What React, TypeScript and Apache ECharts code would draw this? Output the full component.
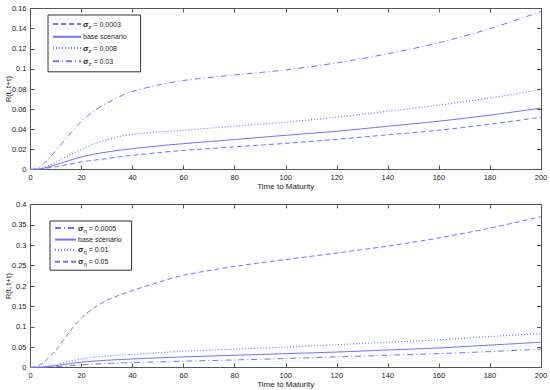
import React, { useEffect, useRef } from "react";
import * as echarts from "echarts";

const tenors = [0, 3, 5, 10, 15, 20, 25, 30, 35, 40, 50, 60, 80, 100, 120, 140, 160, 180, 200];

// Top panel (sigma_z)
const topLow = [0, 0.0003, 0.0008, 0.0028, 0.0052, 0.0075, 0.0093, 0.0109, 0.0126, 0.0141, 0.0167, 0.019, 0.0225, 0.026, 0.030, 0.0345, 0.039, 0.045, 0.052];
const topBase = [0, 0.0004, 0.0012, 0.0048, 0.0088, 0.0125, 0.0153, 0.0174, 0.0192, 0.0207, 0.0234, 0.0257, 0.0298, 0.034, 0.038, 0.043, 0.048, 0.054, 0.061];
const topMid = [0, 0.0005, 0.0016, 0.0075, 0.014, 0.020, 0.0255, 0.0296, 0.0328, 0.035, 0.0372, 0.039, 0.043, 0.047, 0.052, 0.058, 0.064, 0.071, 0.0795];
const topHigh = [0, 0.0012, 0.005, 0.019, 0.034, 0.048, 0.0585, 0.066, 0.0725, 0.0775, 0.084, 0.0885, 0.094, 0.099, 0.106, 0.115, 0.126, 0.140, 0.157];

// Bottom panel (sigma_eta)
const botLow = [0, 0.0002, 0.0006, 0.0022, 0.0042, 0.0065, 0.0085, 0.0098, 0.011, 0.012, 0.0138, 0.0155, 0.0185, 0.022, 0.026, 0.030, 0.034, 0.039, 0.045];
const botBase = [0, 0.0004, 0.0012, 0.0045, 0.0092, 0.013, 0.0158, 0.0178, 0.0195, 0.021, 0.0236, 0.026, 0.030, 0.034, 0.038, 0.043, 0.048, 0.055, 0.062];
const botMid = [0, 0.0005, 0.0016, 0.0075, 0.0145, 0.021, 0.0253, 0.0283, 0.0305, 0.032, 0.0362, 0.040, 0.045, 0.050, 0.056, 0.062, 0.068, 0.076, 0.083];
const botHigh = [0, 0.004, 0.012, 0.043, 0.085, 0.122, 0.147, 0.165, 0.178, 0.189, 0.209, 0.2265, 0.248, 0.265, 0.281, 0.298, 0.318, 0.342, 0.370];

const topNames = ["σz = 0.0003", "base scenario", "σz = 0.008", "σz = 0.03"];
const botNames = ["ση = 0.0005", "base scenario ", "ση = 0.01", "ση = 0.05"];
const legendLabels: Record<string, string> = {
  "σz = 0.0003": "{s|σ}{sub|z}{t| = 0.0003}",
  "base scenario": "{t|base scenario}",
  "σz = 0.008": "{s|σ}{sub|z}{t| = 0.008}",
  "σz = 0.03": "{s|σ}{sub|z}{t| = 0.03}",
  "ση = 0.0005": "{s|σ}{sub|η}{t| = 0.0005}",
  "base scenario ": "{t|base scenario}",
  "ση = 0.01": "{s|σ}{sub|η}{t| = 0.01}",
  "ση = 0.05": "{s|σ}{sub|η}{t| = 0.05}",
};

const COLOR = "#7373f0";
const AXIS = "#555";
const FONT = "Liberation Sans, Arial, sans-serif";

const pairs = (ys: number[]) => tenors.map((x, i) => [x, ys[i]]);

export default function App() {
  const ref = useRef<HTMLDivElement>(null);
  useEffect(() => {
    if (!ref.current) return;
    const chart = echarts.init(ref.current, undefined, { renderer: "svg" });

    const dashed = [5, 3];
    const dotted = [1, 2];
    const dashdot = [6, 3, 1, 3];

    const mkSeries = (name: string, ys: number[], type: any, idx: number, width = 1) => ({
      name,
      type: "line",
      xAxisIndex: idx,
      yAxisIndex: idx,
      data: pairs(ys),
      showSymbol: false,
      symbol: "none",
      smooth: 0.3,
      lineStyle: { color: COLOR, width, type },
      itemStyle: { color: COLOR },
    });

    const tickStyle = { show: true, inside: true, length: 4, lineStyle: { color: AXIS } };
    const lineStyleAx = { show: true, onZero: false, lineStyle: { color: AXIS, width: 1 } };

    const mainX = (gridIndex: number) => ({
      type: "value",
      gridIndex,
      min: 0,
      max: 200,
      interval: 20,
      name: "Time to Maturity",
      nameLocation: "middle",
      nameGap: 13,
      nameMoveOverlap: false,
      nameTextStyle: { fontSize: 8, color: "#222", fontFamily: FONT },
      axisLine: lineStyleAx,
      axisTick: tickStyle,
      axisLabel: { fontSize: 7.5, color: "#222", margin: 4, fontFamily: FONT },
      splitLine: { show: false },
    });
    const topX = (gridIndex: number) => ({
      type: "value",
      gridIndex,
      position: "top",
      min: 0,
      max: 200,
      interval: 20,
      axisLine: lineStyleAx,
      axisTick: tickStyle,
      axisLabel: { show: false },
      splitLine: { show: false },
    });
    const mainY = (gridIndex: number, max: number, interval: number) => ({
      type: "value",
      gridIndex,
      min: 0,
      max,
      interval,
      name: "R(t, t+τ)",
      nameLocation: "middle",
      nameGap: 18,
      nameRotate: 90,
      nameMoveOverlap: false,
      nameTextStyle: { fontSize: 7.5, color: "#222", fontFamily: FONT },
      axisLine: lineStyleAx,
      axisTick: tickStyle,
      axisLabel: { fontSize: 7.5, color: "#222", margin: 4, fontFamily: FONT },
      splitLine: { show: false },
    });
    const rightY = (gridIndex: number, max: number, interval: number) => ({
      type: "value",
      gridIndex,
      position: "right",
      min: 0,
      max,
      interval,
      axisLine: lineStyleAx,
      axisTick: tickStyle,
      axisLabel: { show: false },
      splitLine: { show: false },
    });

    const rich = {
      s: { fontSize: 8, fontWeight: "bold" as const, color: "#222", fontFamily: FONT },
      sub: { fontSize: 6, color: "#222", fontFamily: FONT, padding: [5, 0, 0, 0] },
      t: { fontSize: 7, color: "#222", fontFamily: FONT },
    };
    const mkLegend = (data: string[], left: number, top: number, pad: number[], gap: number, w: number) => ({
      data,
      orient: "vertical",
      left,
      top,
      padding: pad,
      itemGap: gap,
      itemWidth: w,
      itemHeight: 9,
      borderColor: "#333",
      borderWidth: 1,
      backgroundColor: "#fff",
      itemStyle: { opacity: 0 },
      formatter: (n: string) => legendLabels[n] || n,
      textStyle: { rich, fontSize: 7, color: "#222", fontFamily: FONT, padding: [0, 0, 0, -3] },
    });

    chart.setOption({
      animation: false,
      backgroundColor: "#fff",
      grid: [
        { left: 30.5, right: 9, top: 8.5, height: 161, outerBoundsMode: "none", containLabel: false },
        { left: 30.5, right: 9, top: 204.5, height: 163, outerBoundsMode: "none", containLabel: false },
      ],
      xAxis: [mainX(0), mainX(1), topX(0), topX(1)],
      yAxis: [mainY(0, 0.16, 0.02), mainY(1, 0.4, 0.05), rightY(0, 0.16, 0.02), rightY(1, 0.4, 0.05)],
      legend: [
        mkLegend(topNames, 48, 15, [5, 14, 5, 4], 3.7, 28),
        mkLegend(botNames, 50, 221, [3, 10, 3, 4], 2.5, 21),
      ],
      series: [
        mkSeries(topNames[0], topLow, dashed, 0),
        mkSeries(topNames[1], topBase, "solid", 0),
        mkSeries(topNames[2], topMid, dotted, 0, 1.2),
        mkSeries(topNames[3], topHigh, dashdot, 0),
        mkSeries(botNames[0], botLow, dashdot, 1),
        mkSeries(botNames[1], botBase, "solid", 1),
        mkSeries(botNames[2], botMid, dotted, 1, 1.2),
        mkSeries(botNames[3], botHigh, dashed, 1),
      ],
    });
    return () => chart.dispose();
  }, []);
  return (
    <div
      ref={ref}
      style={{ position: "fixed", left: 0, top: 0, width: 550, height: 390, background: "#fff" }}
    />
  );
}
